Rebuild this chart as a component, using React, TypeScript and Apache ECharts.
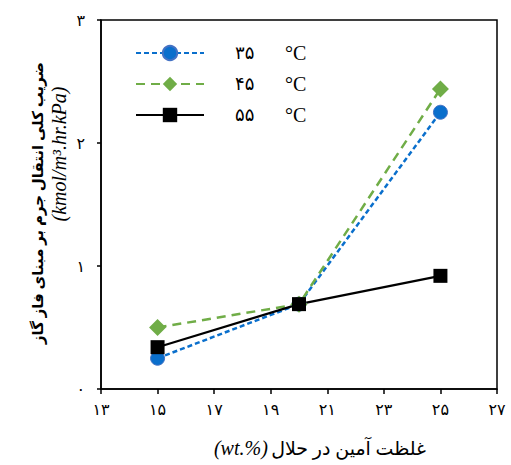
import React, { useEffect, useRef } from "react";
import * as echarts from "echarts";

const xValues = [15, 20, 25];
const s35 = [0.25, 0.69, 2.25];
const s45 = [0.5, 0.69, 2.44];
const s55 = [0.34, 0.69, 0.92];
const seriesNames = ["۳۵", "۴۵", "۵۵"];
const xTickValues = [13, 15, 17, 19, 21, 23, 25, 27];
const xTickLabels = ["۱۳", "۱۵", "۱۷", "۱۹", "۲۱", "۲۳", "۲۵", "۲۷"];
const yTickValues = [0, 1, 2, 3];
const yTickLabels = ["۰", "۱", "۲", "۳"];
const yTitle = "ضریب کلی انتقال جرم بر مبنای فاز گاز";
const yUnit = "(kmol/m³.hr.kPa)";
const xTitle = "غلظت آمین در حلال";
const xUnit = "(wt.%)";
const unitC = "°C";

const FA = "'Liberation Serif', 'DejaVu Sans', serif";

export default function App() {
  const ref = useRef<HTMLDivElement>(null);
  useEffect(() => {
    if (!ref.current) return;
    const chart = echarts.init(ref.current, undefined, { renderer: "svg" });
    const mk = (vals: number[]) => xValues.map((x, i) => [x, vals[i]]);
    chart.setOption({
      animation: false,
      backgroundColor: "#fff",
      grid: {
        left: 101,
        right: 14,
        top: 20,
        bottom: 76,
        show: true,
        borderColor: "#000",
        borderWidth: 1.5,
      },
      xAxis: {
        type: "value",
        min: 13,
        max: 27,
        interval: 2,
        axisLine: { show: true, lineStyle: { color: "#000", width: 1.5 } },
        axisTick: { show: true, length: 5, lineStyle: { color: "#000", width: 1.5 } },
        splitLine: { show: false },
        axisLabel: {
          color: "#000",
          fontSize: 16,
          fontFamily: FA,
          margin: 12,
          formatter: (v: number) => xTickLabels[xTickValues.indexOf(v)] ?? "",
        },
      },
      yAxis: {
        type: "value",
        min: 0,
        max: 3,
        interval: 1,
        axisLine: { show: true, lineStyle: { color: "#000", width: 1.5 } },
        axisTick: { show: true, length: 4, lineStyle: { color: "#000", width: 1.5 } },
        splitLine: { show: false },
        axisLabel: {
          color: "#000",
          fontSize: 16,
          fontFamily: FA,
          margin: 16,
          formatter: (v: number) => yTickLabels[yTickValues.indexOf(v)] ?? "",
        },
      },
      legend: {
        orient: "vertical",
        left: 130,
        top: 38,
        itemWidth: 68,
        itemHeight: 18,
        itemGap: 11,
        data: seriesNames,
        formatter: (name: string) => `{s|}{n|${name}}{c|${unitC}}`,
        textStyle: {
          color: "#000",
          fontSize: 17,
          fontFamily: FA,
          lineHeight: 18,
          rich: {
            s: { width: 26, lineHeight: 18 },
            n: { width: 50, fontSize: 18, fontFamily: FA, color: "#000", lineHeight: 18 },
            c: { fontSize: 20, fontFamily: "'Liberation Serif', serif", color: "#000", lineHeight: 18 },
          },
        },
      },
      series: [
        {
          name: seriesNames[0],
          type: "line",
          data: mk(s35),
          symbol: "circle",
          symbolSize: 14,
          itemStyle: { color: "#0A6FCC", borderColor: "#4472C4", borderWidth: 1 },
          lineStyle: { color: "#0A6FCC", width: 2.5, type: [5, 3] },
        },
        {
          name: seriesNames[1],
          type: "line",
          data: mk(s45),
          symbol: "diamond",
          symbolSize: 17,
          itemStyle: { color: "#70AD47" },
          lineStyle: { color: "#70AD47", width: 2.5, type: [9, 6] },
        },
        {
          name: seriesNames[2],
          type: "line",
          data: mk(s55),
          symbol: "rect",
          symbolSize: 14,
          itemStyle: { color: "#000" },
          lineStyle: { color: "#000", width: 2.2, type: "solid" },
        },
      ],
      graphic: [
        {
          type: "text",
          x: 38,
          y: 203,
          rotation: Math.PI / 2,
          style: {
            text: yTitle,
            fontSize: 15,
            fontWeight: "bold",
            fontFamily: FA,
            fill: "#000",
            align: "center",
            verticalAlign: "middle",
          },
        },
        {
          type: "text",
          x: 59,
          y: 154,
          rotation: Math.PI / 2,
          style: {
            text: yUnit,
            fontSize: 20,
            fontStyle: "italic",
            fontFamily: "'Liberation Serif', serif",
            fill: "#000",
            align: "center",
            verticalAlign: "middle",
          },
        },
        {
          type: "text",
          x: 320,
          y: 448,
          style: {
            text: `{u|${xUnit}} {t|${xTitle}}`,
            fill: "#000",
            align: "center",
            verticalAlign: "middle",
            rich: {
              u: { fontSize: 20, fontStyle: "italic", fontFamily: "'Liberation Serif', serif", fill: "#000" },
              t: { fontSize: 19, fontFamily: FA, fill: "#000" },
            },
          },
        },
      ],
    });
    return () => chart.dispose();
  }, []);
  return <div ref={ref} style={{ width: 511, height: 465, position: "absolute", left: 0, top: 0 }} />;
}
